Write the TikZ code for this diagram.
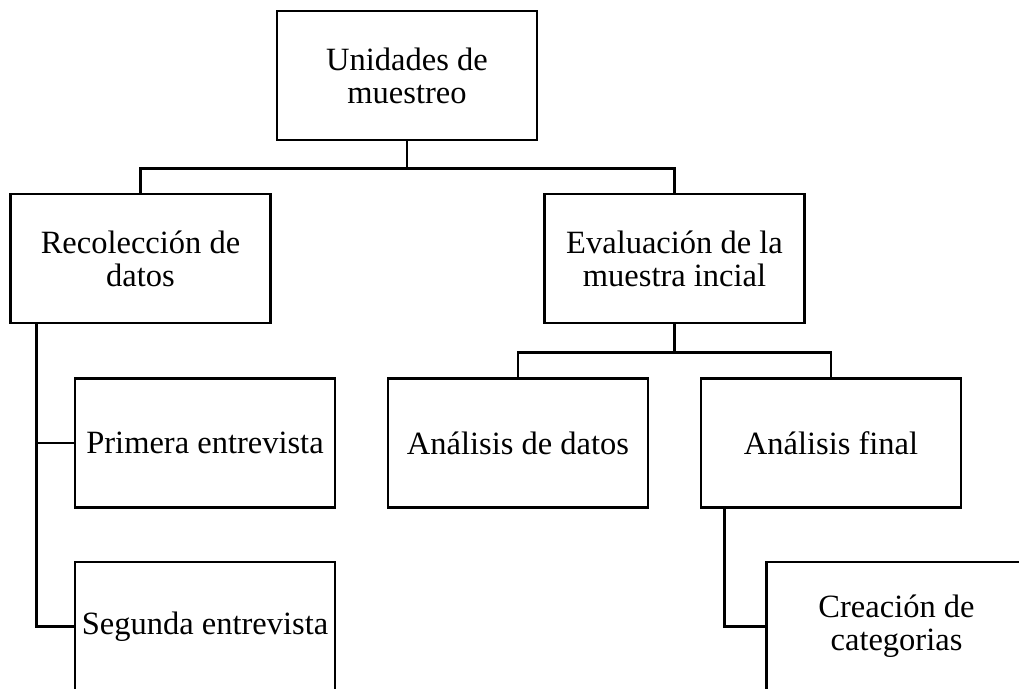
\documentclass[tikz,border=0pt]{standalone}
\usepackage{fontspec}
\setmainfont{Liberation Serif}
\usepackage{tikz}
\usetikzlibrary{calc}

\tikzset{
  caja/.style={draw, line width=2.6pt, minimum width=260pt, minimum height=129pt,
    align=center, font=\fontsize{32.5}{33}\selectfont, inner sep=0pt},
  linea/.style={line width=2.6pt}
}

\begin{document}
\begin{tikzpicture}[x=1pt,y=-1pt]
    \clip (0,0) rectangle (1019,688);
    \useasboundingbox (0,0) rectangle (1019,688);
    \node[caja] (unid) at (407,75.5) {Unidades de\\muestreo};
    \node[caja] (reco) at (140.5,258.5) {Recolecci\'on de\\datos};
    \node[caja] (eval) at (674.5,258.5) {Evaluaci\'on de la\\muestra incial};
    \node[caja] (prim) at (205,443) {Primera entrevista};
    \node[caja] (segu) at (205,626.5) {Segunda entrevista};
    \node[caja] (anad) at (518,443) {An\'alisis de datos};
    \node[caja] (anaf) at (831,443) {An\'alisis final};
    \node[caja] (crea) at (896.5,626.5) {Creaci\'on de\\categorias};
    % conectores
    \coordinate (u1) at ($(unid.south)+(0,27)$);
    \draw[linea] (unid.south) -- (u1) -| (reco.north);
    \draw[linea] (u1) -| (eval.north);
    \coordinate (e1) at ($(eval.south)+(0,28)$);
    \draw[linea] (eval.south) -- (e1) -| (anad.north);
    \draw[linea] (e1) -| (anaf.north);
    \coordinate (r1) at ($(reco.south west)+(27,0)$);
    \draw[linea] (r1) |- (prim.west);
    \draw[linea] (r1) |- (segu.west);
    \coordinate (f1) at ($(anaf.south west)+(25,0)$);
    \draw[linea] (f1) |- (crea.west);
\end{tikzpicture}
\end{document}
